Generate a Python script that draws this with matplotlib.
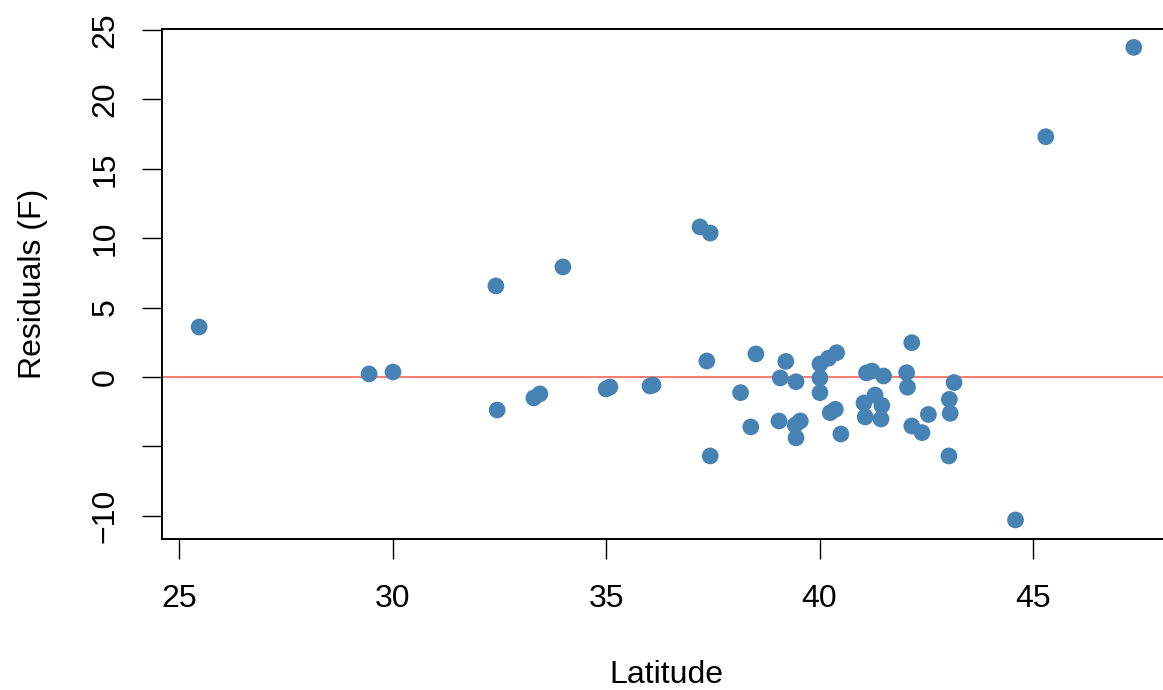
import matplotlib
matplotlib.use("Agg")
import matplotlib.pyplot as plt

latitude = [25.47, 29.45, 30.01, 32.42, 32.45, 33.31, 33.45, 33.99, 35.00, 35.09,
            36.03, 36.10, 37.20, 37.44, 37.36, 37.44, 38.15, 38.39, 38.51, 39.05,
            39.08, 39.21, 39.45, 39.55, 39.43, 39.45, 40.01, 40.01, 40.01, 40.21,
            40.40, 40.25, 40.37, 40.50, 41.10, 41.23, 41.50, 41.30, 41.04, 41.46,
            41.07, 41.44, 42.16, 42.04, 42.06, 42.55, 42.16, 42.40, 43.15, 43.04,
            43.06, 43.03, 44.59, 45.30, 47.36]
residuals = [3.60, 0.22, 0.36, 6.56, -2.38, -1.51, -1.22, 7.93, -0.86, -0.72,
             -0.65, -0.58, 10.81, 10.37, 1.15, -5.69, -1.13, -3.60, 1.66, -3.17,
             -0.07, 1.12, -0.34, -3.17, -3.46, -4.39, 0.94, -0.07, -1.13, 1.35,
             1.75, -2.57, -2.33, -4.11, 0.29, 0.43, 0.07, -1.30, -1.87, -2.05,
             -2.88, -3.03, 2.47, 0.31, -0.74, -2.70, -3.53, -4.01, -0.40, -1.61,
             -2.62, -5.69, -10.30, 17.31, 23.75]
x_ticks = [25, 30, 35, 40, 45]
y_ticks = [-10, -5, 0, 5, 10, 15, 20, 25]
y_tick_labels = ["\u221210", "", "0", "5", "10", "15", "20", "25"]

plt.rcParams['font.family'] = ['Liberation Sans', 'DejaVu Sans']

fig = plt.figure(figsize=(11.63, 6.90), dpi=100)
ax = fig.add_axes([162/1163, 1 - 538.8/690, (1170.5 - 162)/1163, (538.8 - 28.9)/690])

ax.axhline(0, color='#FA8072', lw=1.5, zorder=1)
ax.scatter(latitude, residuals, s=145, color='#4682B4', edgecolors='none', zorder=2)

ax.set_xlim(24.6, 48.22)
ax.set_ylim(-11.66, 25.08)
ax.set_xticks(x_ticks)
ax.set_xticklabels([str(t) for t in x_ticks])
ax.set_yticks(y_ticks)
ax.set_yticklabels(y_tick_labels, rotation=90, va='center')

fs = 23
ax.tick_params(axis='both', direction='out', length=14.4, width=1.0, labelsize=fs, color='black')
ax.tick_params(axis='x', pad=18.5)
ax.tick_params(axis='y', pad=15.6)
for s in ax.spines.values():
    s.set_linewidth(1.4)
    s.set_color('black')

ax.set_xlabel("Latitude", fontsize=fs, labelpad=33)
ax.set_ylabel("Residuals (F)", fontsize=fs, labelpad=30.6)

fig.savefig("out.png", dpi=100)
